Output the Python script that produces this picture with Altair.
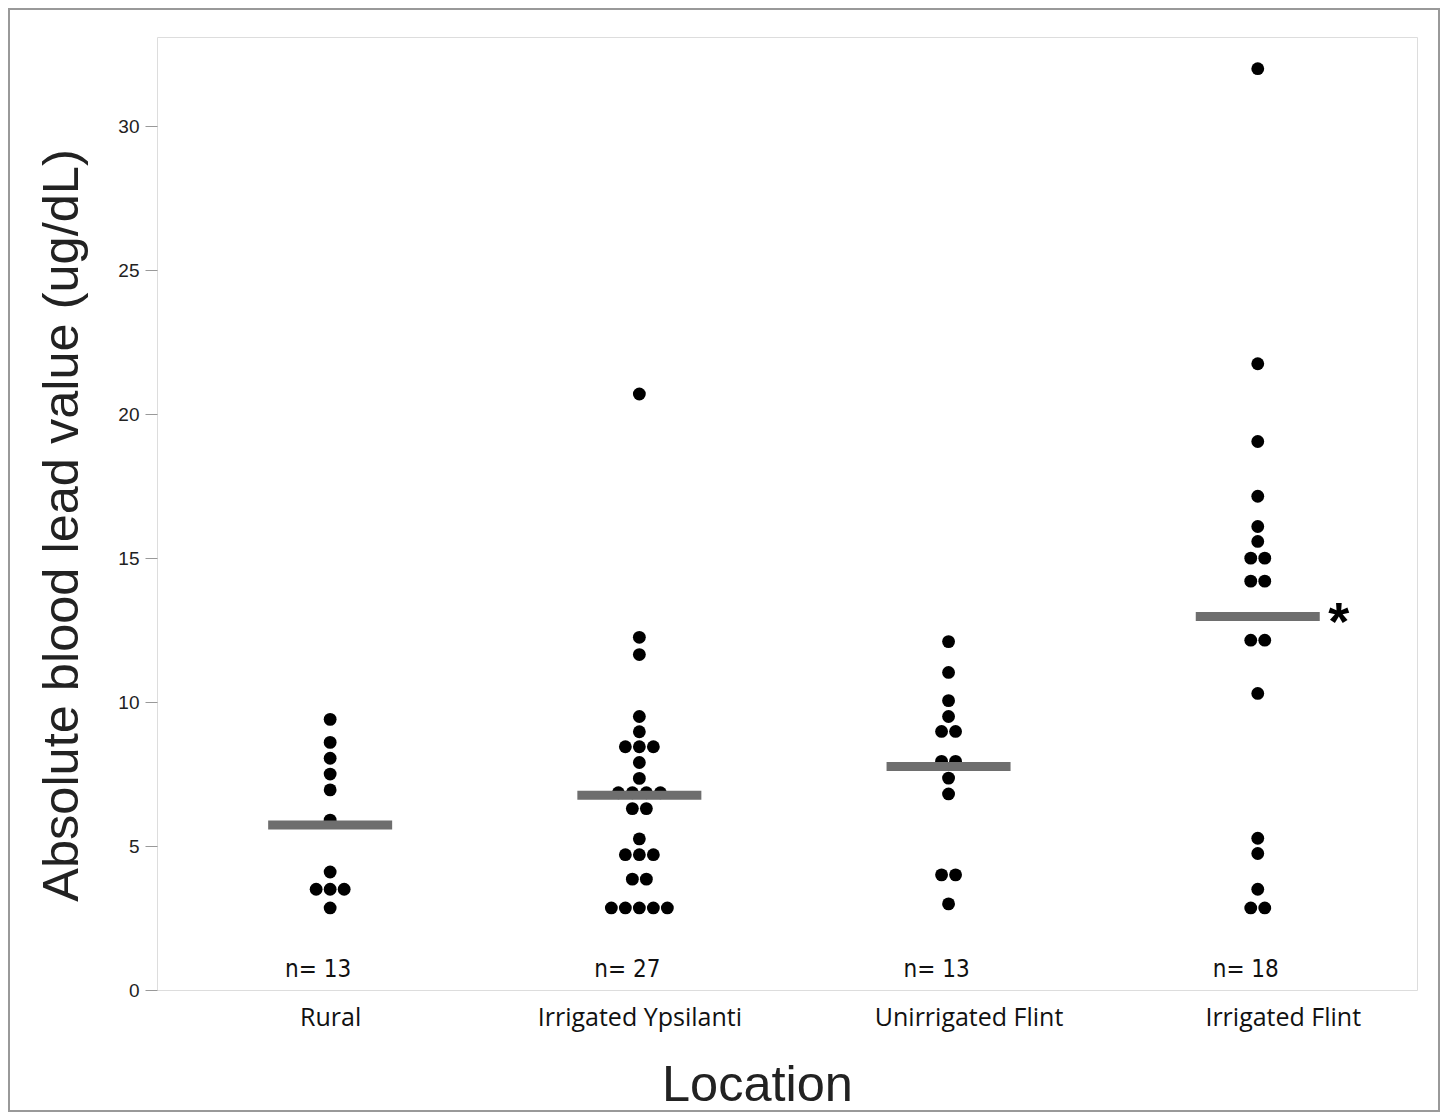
import altair as alt
import pandas as pd

locations = ["Rural", "Irrigated Ypsilanti", "Unirrigated Flint", "Irrigated Flint"]
rural = [9.4, 8.6, 8.05, 7.5, 6.95, 5.9, 4.1, 3.5, 3.5, 3.5, 2.85]
ypsilanti = [20.7, 12.25, 11.65, 9.5, 8.97, 8.45, 8.45, 8.45, 7.9, 7.35,
             6.85, 6.85, 6.85, 6.85, 6.3, 6.3, 5.25, 4.7, 4.7, 4.7,
             3.85, 3.85, 2.85, 2.85, 2.85, 2.85, 2.85]
unirrigated_flint = [12.1, 11.03, 10.05, 9.5, 8.98, 8.98, 7.94, 7.94, 7.36, 6.81,
                     4.0, 4.0, 2.99]
irrigated_flint = [32.0, 21.75, 19.05, 17.15, 16.1, 15.58, 15.0, 15.0, 14.2, 14.2,
                   12.15, 12.15, 10.3, 5.27, 4.74, 3.5, 2.85, 2.85]
means = [5.73, 6.76, 7.76, 12.97]
n_labels = ["n= 13", "n= 27", "n= 13", "n= 18"]
significance = ["", "", "", "*"]

series = [rural, ypsilanti, unirrigated_flint, irrigated_flint]
rows = []
for i, (loc, vals) in enumerate(zip(locations, series)):
    for v in vals:
        rows.append({"loc": loc, "idx": i, "value": v})
points_df = pd.DataFrame(rows)
summary_df = pd.DataFrame({"loc": locations, "idx": list(range(4)), "mean": means,
                           "n": n_labels, "sig": significance, "ny": [0.7] * 4})

label_expr = "[" + ",".join("'%s'" % l for l in locations) + "][datum.value]"

xscale = alt.Scale(domain=[-0.56, 3.515], nice=False, zero=False)
yscale = alt.Scale(domain=[0, 33.1], nice=False, zero=True)

xaxis = alt.Axis(values=[0, 1, 2, 3], labelExpr=label_expr, ticks=False, domain=False,
                 grid=False, labelFont="Open Sans", labelFontSize=25, labelColor="#111",
                 labelPadding=15, labelLimit=0,
                 labelOffset={"condition": [{"test": "datum.value == 2", "value": 20},
                                            {"test": "datum.value == 3", "value": 25}],
                              "value": 0},
                 title="Location", titleFont="Liberation Sans", titleFontSize=50.5,
                 titleFontWeight="normal", titleColor="#222", titleX=600, titleY=95,
                 titleBaseline="middle", titleAlign="center")
yaxis = alt.Axis(values=[0, 5, 10, 15, 20, 25, 30], grid=False, domain=False,
                 tickSize=12, tickColor="#999", labelFont="Liberation Sans",
                 labelFontSize=19, labelColor="#222", labelPadding=6,
                 title="Absolute blood lead value (ug/dL)", titleFont="Liberation Sans",
                 titleFontSize=50.5, titleFontWeight="normal", titleColor="#222",
                 titleX=-95, titleY=488, titleBaseline="middle", titleAlign="center",
                 titleAngle=-90)

points = alt.Chart(points_df).transform_window(
    rank="row_number()", cnt="count()", groupby=["loc", "value"], frame=[None, None]
).transform_calculate(
    xpos="datum.idx + (datum.rank - (datum.cnt + 1) / 2) * 0.0453"
).mark_circle(size=165, color="black", opacity=1).encode(
    x=alt.X("xpos:Q", scale=xscale, axis=xaxis),
    y=alt.Y("value:Q", scale=yscale, axis=yaxis),
)

base = alt.Chart(summary_df)
bars = base.mark_tick(orient="horizontal", size=124, thickness=9, color="#6e6e6e", opacity=1).encode(
    x=alt.X("idx:Q", scale=xscale),
    y=alt.Y("mean:Q", scale=yscale),
)
nlab = base.mark_text(font="Liberation Sans Narrow, DejaVu Sans Condensed, sans-serif",
                      fontSize=24, color="#111", dx=-12, baseline="middle").encode(
    x=alt.X("idx:Q", scale=xscale),
    y=alt.Y("ny:Q", scale=yscale),
    text="n:N",
)
star = base.mark_text(font="Liberation Sans", fontSize=54, fontWeight="bold", color="black",
                      dx=81, dy=7, baseline="middle").encode(
    x=alt.X("idx:Q", scale=xscale),
    y=alt.Y("mean:Q", scale=yscale),
    text="sig:N",
)
frame = alt.Chart(alt.Data(values=[{}])).mark_rect(fill=None, stroke="#999", strokeWidth=2).encode(
    x=alt.value(-148), x2=alt.value(1282), y=alt.value(-28), y2=alt.value(1074)
)

chart = alt.layer(frame, points, bars, nlab, star).properties(
    width=1260, height=953,
    autosize=alt.AutoSizeParams(type="none"),
    padding={"left": 149, "top": 29, "right": 23, "bottom": 122},
).configure_view(stroke="#aaa", strokeWidth=1.5).configure(background="white")

chart.save("out.html", embed_options={"renderer": "svg", "actions": False})
